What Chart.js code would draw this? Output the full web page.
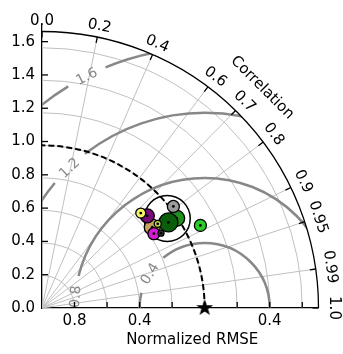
<!DOCTYPE html>
<html>
<head>
<meta charset="utf-8">
<script src="https://cdn.jsdelivr.net/npm/chart.js@4.4.0/dist/chart.umd.min.js"></script>
<style>
  html, body { margin: 0; padding: 0; background: #fff; }
  canvas { display: block; }
</style>
</head>
<body>
<canvas id="taylor" width="343" height="354"></canvas>
<script>
// Taylor diagram: normalized standard deviation (radius) vs correlation (angle)
const refStd = 1.0;
const maxStd = 1.7;
const stdTicks = [0.0, 0.2, 0.4, 0.6, 0.8, 1.0, 1.2, 1.4, 1.6];
const corrTicks = [0.0, 0.2, 0.4, 0.6, 0.7, 0.8, 0.9, 0.95, 0.99, 1.0];
const corrTickLabels = ['0.0', '0.2', '0.4', '0.6', '0.7', '0.8', '0.9', '0.95', '0.99', '1.0'];
const rmseLevels = [0.4, 0.8, 1.2, 1.6];
const rmseLevelLabels = ['0.4', '0.8', '1.2', '1.6'];
const rmseAxisOffsets = [-0.8, -0.4, 0.4];
const rmseAxisLabels = ['0.8', '0.4', '0.4'];
const xTitle = 'Normalized RMSE';
const arcTitle = 'Correlation';

// model statistics, listed in drawing order (bottom first)
const modelStd  = [0.939, 0.834, 0.852, 0.833, 0.988, 0.932, 1.012, 0.820, 0.873, 0.859, 1.093];
const modelCorr = [0.820, 0.813, 0.760, 0.729, 0.838, 0.834, 0.798, 0.839, 0.815, 0.852, 0.891];

// marker appearance
const markerRadius = [23, 8, 7, 5, 8, 9.5, 6, 6, 3.5, 3, 6];
const markerColor = ['rgba(0,0,0,0)', '#c9a25e', '#7a0a7a', '#f3f36a', '#1f8f1f', '#0b5c0b',
                     '#9c9c9c', '#d21bd2', '#bcd94a', '#3a3a3a', '#2ccc2c'];

// contour label placement (angle about the reference point, degrees)
const rmseLabelAngle = [148, 175, 134, 117];
const FONT = '"DejaVu Sans", sans-serif';
const FS = 15;

const toXY = (s, c) => ({ x: s * c, y: s * Math.sqrt(Math.max(0, 1 - c * c)) });

// filled five-point star used for the reference marker
function makeStar(size, outer, inner) {
  const cv = document.createElement('canvas');
  cv.width = size; cv.height = size;
  const g = cv.getContext('2d');
  g.fillStyle = '#000';
  g.beginPath();
  for (let i = 0; i < 10; i++) {
    const r = i % 2 === 0 ? outer : inner;
    const a = -Math.PI / 2 + i * Math.PI / 5;
    const px = size / 2 + r * Math.cos(a), py = size / 2 + r * Math.sin(a);
    if (i === 0) g.moveTo(px, py); else g.lineTo(px, py);
  }
  g.closePath();
  g.fill();
  return cv;
}

// build datasets: marker then its centre dot, for each model
const drawList = [];
modelStd.forEach((s, i) => {
  const p = toXY(s, modelCorr[i]);
  drawList.push({
    type: 'bubble',
    data: [{ x: p.x, y: p.y, r: markerRadius[i] }],
    backgroundColor: markerColor[i],
    borderColor: '#000',
    borderWidth: i === 0 ? 1.5 : 1.3,
    hoverRadius: 0,
    clip: false
  });
  drawList.push({
    type: 'scatter',
    data: [p],
    pointRadius: 1.4,
    pointBackgroundColor: '#000',
    pointBorderWidth: 0,
    clip: false
  });
});
drawList.push({
  type: 'scatter',
  data: [{ x: refStd, y: 0 }],
  pointStyle: makeStar(20, 8.8, 3.5),
  pointRadius: 9,
  clip: false
});
// Chart.js paints the first dataset on top, so reverse the paint order
const datasets = drawList.slice().reverse();

const polarPlugin = {
  id: 'polarFrame',
  beforeDatasetsDraw(chart) {
    const { ctx, scales: { x, y } } = chart;
    const ox = x.getPixelForValue(0), oy = y.getPixelForValue(0);
    const ux = x.getPixelForValue(1) - ox;
    const R = maxStd * ux;
    const deg = Math.PI / 180;

    ctx.save();
    ctx.beginPath();
    ctx.moveTo(ox, oy);
    ctx.arc(ox, oy, R, 0, -Math.PI / 2, true);
    ctx.closePath();
    ctx.clip();

    // standard deviation circles
    ctx.strokeStyle = '#c0c0c0';
    ctx.lineWidth = 1;
    stdTicks.forEach(r => {
      if (r <= 0) return;
      ctx.beginPath();
      ctx.arc(ox, oy, r * ux, 0, -Math.PI / 2, true);
      ctx.stroke();
    });
    // correlation rays
    corrTicks.forEach(c => {
      if (c <= 0 || c >= 1) return;
      const t = Math.acos(c);
      ctx.beginPath();
      ctx.moveTo(ox, oy);
      ctx.lineTo(ox + R * Math.cos(t), oy - R * Math.sin(t));
      ctx.stroke();
    });

    // centred RMSE contours with inline labels
    const cx = x.getPixelForValue(refStd), cy = oy;
    ctx.strokeStyle = '#888888';
    ctx.lineWidth = 2.5;
    rmseLevels.forEach((lv, i) => {
      const rp = lv * ux;
      const la = rmseLabelAngle[i] * deg;
      const half = 21 / rp;
      const segs = [[0, la - half], [la + half, Math.PI]];
      segs.forEach(([a, b]) => {
        if (b <= a) return;
        ctx.beginPath();
        ctx.arc(cx, cy, rp, -a, -b, true);
        ctx.stroke();
      });
    });
    ctx.restore();

    ctx.save();
    ctx.fillStyle = '#888888';
    ctx.font = '14px ' + FONT;
    ctx.textAlign = 'center';
    ctx.textBaseline = 'middle';
    rmseLevels.forEach((lv, i) => {
      const rp = lv * ux;
      const la = rmseLabelAngle[i] * deg;
      ctx.save();
      ctx.translate(cx + rp * Math.cos(la), cy - rp * Math.sin(la));
      ctx.rotate(Math.PI / 2 - la);
      ctx.fillText(rmseLevelLabels[i], 0, 1);
      ctx.restore();
    });
    ctx.restore();

    // reference standard deviation arc
    ctx.save();
    ctx.strokeStyle = '#000';
    ctx.lineWidth = 2;
    ctx.setLineDash([6, 3]);
    ctx.beginPath();
    ctx.arc(ox, oy, refStd * ux, 0, -Math.PI / 2, true);
    ctx.stroke();
    ctx.restore();

    // outer correlation axis
    ctx.save();
    ctx.strokeStyle = '#000';
    ctx.lineWidth = 1.3;
    ctx.beginPath();
    ctx.arc(ox, oy, R, 0, -Math.PI / 2, true);
    ctx.stroke();
    ctx.fillStyle = '#000';
    ctx.font = FS + 'px ' + FONT;
    ctx.textAlign = 'center';
    ctx.textBaseline = 'middle';
    corrTicks.forEach((c, i) => {
      const t = Math.acos(c);
      const cs = Math.cos(t), sn = Math.sin(t);
      ctx.beginPath();
      ctx.moveTo(ox + R * cs, oy - R * sn);
      ctx.lineTo(ox + (R - 6) * cs, oy - (R - 6) * sn);
      ctx.stroke();
      const off = 15 - 4.5 * (t / (Math.PI / 2));
      ctx.save();
      ctx.translate(ox + (R + off) * cs, oy - (R + off) * sn);
      ctx.rotate(Math.PI / 2 - t);
      ctx.fillText(corrTickLabels[i], 0, 0);
      ctx.restore();
    });
    ctx.save();
    const ta = 45 * deg;
    ctx.translate(ox + (R + 35) * Math.cos(ta), oy - (R + 35) * Math.sin(ta));
    ctx.rotate(Math.PI / 2 - ta);
    ctx.fillText(arcTitle, 0, 0);
    ctx.restore();

    // inward ticks on the two straight axes
    stdTicks.forEach(v => {
      if (v <= 0) return;
      const px = x.getPixelForValue(v);
      ctx.beginPath(); ctx.moveTo(px, oy); ctx.lineTo(px, oy - 6); ctx.stroke();
      const py = y.getPixelForValue(v);
      ctx.beginPath(); ctx.moveTo(ox, py); ctx.lineTo(ox + 6, py); ctx.stroke();
    });

    // horizontal axis title
    ctx.textBaseline = 'alphabetic';
    const area = chart.chartArea;
    ctx.fillText(xTitle, (area.left + area.right) / 2 + 12, area.bottom + 35.5);
    ctx.restore();
  }
};

new Chart(document.getElementById('taylor'), {
  type: 'scatter',
  data: { datasets },
  options: {
    responsive: false,
    animation: false,
    devicePixelRatio: 1,
    layout: { padding: { left: 0, right: 18, top: 25, bottom: 0 } },
    plugins: { legend: { display: false }, tooltip: { enabled: false } },
    events: [],
    scales: {
      x: {
        type: 'linear', min: 0, max: maxStd,
        afterBuildTicks: s => { s.ticks = rmseAxisOffsets.map(o => ({ value: refStd + o })); },
        afterFit: s => { s.height = 46; },
        ticks: {
          callback: (v, i) => rmseAxisLabels[i],
          color: '#000', font: { family: FONT, size: FS },
          padding: 4, maxRotation: 0, autoSkip: false
        },
        grid: { display: true, drawOnChartArea: false, drawTicks: false },
        border: { display: true, color: '#000', width: 1.3 }
      },
      y: {
        type: 'linear', min: 0, max: maxStd,
        afterBuildTicks: s => { s.ticks = stdTicks.map(v => ({ value: v })); },
        afterFit: s => { s.width = 42; },
        ticks: {
          callback: v => v.toFixed(1),
          color: '#000', font: { family: FONT, size: FS },
          padding: 7, autoSkip: false
        },
        grid: { display: true, drawOnChartArea: false, drawTicks: false },
        border: { display: true, color: '#000', width: 1.3 }
      }
    }
  },
  plugins: [polarPlugin]
});
</script>
</body>
</html>
